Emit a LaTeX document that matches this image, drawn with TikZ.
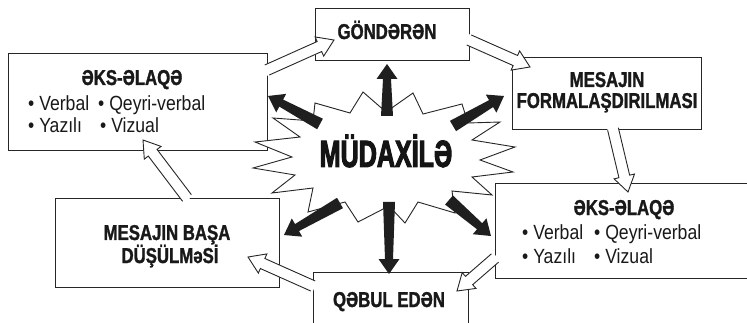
\documentclass[tikz,border=0pt]{standalone}
\usepackage{fontspec}
\setmainfont{Liberation Sans}
\newfontfamily\tfont[FakeStretch=0.78, BoldFeatures={FakeBold=1.3}]{Liberation Sans}
\newfontfamily\rfont[FakeStretch=0.86]{Liberation Sans}
\newfontfamily\bigfont[FakeStretch=0.66, BoldFeatures={FakeBold=2.6}]{Liberation Sans}
\usetikzlibrary{calc}
\newcommand\harrow[2]{%
  \coordinate (hh) at ($(#2)!16pt!(#1)$);
  \coordinate (hq) at ($(#1)!-2pt!(#2)$);
  \fill[white] ($(hq)!5.5pt!90:(#2)$) -- ($(hh)!5.5pt!-90:(#1)$) -- ($(hh)!10.5pt!-90:(#1)$) -- (#2)
     -- ($(hh)!10.5pt!90:(#1)$) -- ($(hh)!5.5pt!90:(#1)$) -- ($(hq)!5.5pt!-90:(#2)$) -- cycle;
  \draw[line width=0.9pt, draw=black!85, line join=miter] ($(#1)!5.5pt!90:(#2)$) -- ($(hh)!5.5pt!-90:(#1)$) -- ($(hh)!10.5pt!-90:(#1)$) -- (#2)
     -- ($(hh)!10.5pt!90:(#1)$) -- ($(hh)!5.5pt!90:(#1)$) -- ($(#1)!5.5pt!-90:(#2)$);
}
\newcommand\barrow[2]{%
  \coordinate (bh) at ($(#2)!15pt!(#1)$);
  \fill[black!88] ($(#1)!6pt!90:(#2)$) -- ($(bh)!4pt!-90:(#1)$) -- ($(bh)!10.5pt!-90:(#1)$) -- (#2)
     -- ($(bh)!10.5pt!90:(#1)$) -- ($(bh)!4pt!90:(#1)$) -- ($(#1)!6pt!-90:(#2)$) -- cycle;
}
\begin{document}
\begin{tikzpicture}[x=1pt,y=-1pt,
  box/.style={draw=black!85, line width=0.9pt, fill=white, inner sep=0pt, anchor=north west},
  ttl/.style={font=\tfont\bfseries\fontsize{21.5}{22}\selectfont, text=black!90, inner sep=0pt, anchor=base},
  blt/.style={font=\rfont\fontsize{20.5}{21}\selectfont, text=black!90, inner sep=0pt, anchor=base west},
  big/.style={font=\bigfont\bfseries\fontsize{38}{39}\selectfont, text=black!92, inner sep=0pt, anchor=base},
  star/.style={draw=black!85, line width=0.9pt, fill=white, line join=miter}
  ]
\clip (0,0) rectangle (747,323);
\fill[white] (0,0) rectangle (747,323);

% boxes
\node[box, minimum width=154pt, minimum height=52pt] (gon) at (315,8) {};
\node[box, minimum width=259pt, minimum height=97pt] (fbL) at (8,53) {};
\node[box, minimum width=189pt, minimum height=72pt] (mes) at (512,57) {};
\node[box, minimum width=270pt, minimum height=95pt] (fbR) at (495,183) {};
\node[box, minimum width=224pt, minimum height=89pt] (bas) at (55,198) {};
\node[box, minimum width=155pt, minimum height=70pt] (qeb) at (313,272) {};

% star
\draw[star] (315,103) -- (350,113) -- (363,92) -- (386,112) -- (413,93) -- (423,114) -- (462,104) -- (468,123)
  -- (500,122) -- (472,140) -- (515,147) -- (480,160) -- (513,172) -- (472,177) -- (492,195) -- (452,191)
  -- (455,213) -- (418,202) -- (405,223) -- (389,206) -- (358,222) -- (345,202) -- (308,212) -- (313,188)
  -- (272,193) -- (295,175) -- (253,168) -- (292,157) -- (255,142) -- (300,137) -- (273,118) -- (313,121) -- cycle;

% black arrows
\coordinate (t1) at (387,116); \coordinate (h1) at (387,64);
\coordinate (t2) at (320,124); \coordinate (h2) at (268,96);
\coordinate (t3) at (453,126); \coordinate (h3) at (504,96);
\coordinate (t4) at (340,203); \coordinate (h4) at (284,235);
\coordinate (t5) at (389,202); \coordinate (h5) at (389,274);
\coordinate (t6) at (449,200); \coordinate (h6) at (491,236);
\barrow{t1}{h1}
\barrow{t2}{h2}
\barrow{t3}{h3}
\barrow{t4}{h4}
\barrow{t5}{h5}
\barrow{t6}{h6}

% hollow arrows
\coordinate (a1s) at (267,70);  \coordinate (a1e) at (334,40);
\coordinate (a2s) at (469,40);  \coordinate (a2e) at (530,67);
\coordinate (a3s) at (613,129); \coordinate (a3e) at (628,192);
\coordinate (a4s) at (495,258); \coordinate (a4e) at (457,291);
\coordinate (a5s) at (313,286); \coordinate (a5e) at (248,257);
\coordinate (a6s) at (187,198); \coordinate (a6e) at (143,140);
\harrow{a1s}{a1e}
\harrow{a2s}{a2e}
\harrow{a3s}{a3e}
\harrow{a4s}{a4e}
\harrow{a5s}{a5e}
\harrow{a6s}{a6e}

% texts
\node[ttl] (tgon) at (387,39) {GÖNDƏRƏN};
\node[ttl] (tmes1) at (607,87) {MESAJIN};
\node[ttl] (tmes2) at (607,108) {FORMALAŞDIRILMASI};
\node[ttl] (tfbL) at (132,85) {ƏKS-ƏLAQƏ};
\node[blt] (bL1) at (28,111) {• Verbal};
\node[blt] (bL2) at (98,111) {• Qeyri-verbal};
\node[blt] (bL3) at (28,133) {• Yazılı};
\node[blt] (bL4) at (100,133) {• Vizual};
\node[ttl] (tfbR) at (624,215) {ƏKS-ƏLAQƏ};
\node[blt] (bR1) at (522,240) {• Verbal};
\node[blt] (bR2) at (594,240) {• Qeyri-verbal};
\node[blt] (bR3) at (522,263) {• Yazılı};
\node[blt] (bR4) at (594,263) {• Vizual};
\node[ttl] (tbas1) at (167,240) {MESAJIN BAŞA};
\node[ttl] (tbas2) at (170,263) {DÜŞÜLMəSİ};
\node[ttl] (tqeb) at (389,307) {QƏBUL EDƏN};
\node[big] (tmud) at (386,167) {MÜDAXİLƏ};
\end{tikzpicture}
\end{document}
